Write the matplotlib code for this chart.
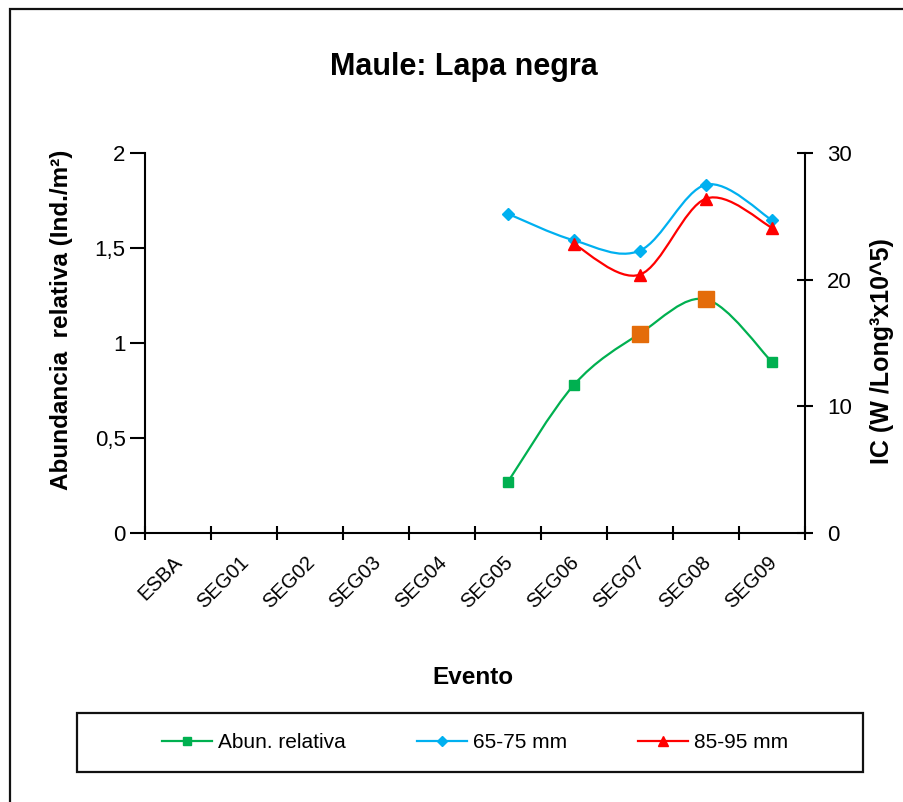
import numpy as np
import matplotlib
matplotlib.use("Agg")
import matplotlib.pyplot as plt
from matplotlib.path import Path
from matplotlib.patches import PathPatch, Rectangle
from matplotlib.lines import Line2D
from matplotlib.ticker import FixedLocator
from matplotlib.transforms import ScaledTranslation

plt.rcParams['font.family'] = ['Liberation Sans', 'DejaVu Sans']

# data
eventos = ['ESBA', 'SEG01', 'SEG02', 'SEG03', 'SEG04',
           'SEG05', 'SEG06', 'SEG07', 'SEG08', 'SEG09']
abundancia = [None, None, None, None, None, 0.27, 0.78, 1.05, 1.23, 0.90]
ic_65_75 = [None, None, None, None, None, 25.2, 23.1, 22.3, 27.5, 24.7]
ic_85_95 = [None, None, None, None, None, None, 22.8, 20.4, 26.4, 24.1]
destacados = ['SEG07', 'SEG08']  # points drawn with the big orange marker

verde = '#00B050'
azul = '#00B0F0'
rojo = '#FF0000'
naranja = '#E46C0A'


def puntos(valores):
    xs, ys = [], []
    for i, v in enumerate(valores):
        if v is not None:
            xs.append(i)
            ys.append(v)
    return np.array(xs, float), np.array(ys, float)


def curva_suave(ax, xs, ys, color):
    # excel-like smoothed line: catmull-rom segments as cubic beziers
    p = np.column_stack([xs, ys])
    verts = [p[0]]
    codes = [Path.MOVETO]
    n = len(p)
    for i in range(n - 1):
        p0 = p[i - 1] if i > 0 else p[i]
        p1 = p[i]
        p2 = p[i + 1]
        p3 = p[i + 2] if i + 2 < n else p[i + 1]
        verts += [p1 + (p2 - p0) / 6, p2 - (p3 - p1) / 6, p2]
        codes += [Path.CURVE4] * 3
    ax.add_patch(PathPatch(Path(verts, codes), facecolor='none',
                           edgecolor=color, lw=1.6, zorder=2))


fig = plt.figure(figsize=(9.04, 8.02), dpi=100)
W, H = 904, 802

# outer chart border
fig.patches.append(Rectangle((10 / W, -0.02), 1.1, (H - 9) / H + 0.02,
                             transform=fig.transFigure, fill=False,
                             edgecolor='#111111', lw=1.6))

ax = fig.add_axes([145 / W, (H - 533) / H, 660 / W, 380 / H])
ax2 = ax.twinx()

x_ab, y_ab = puntos(abundancia)
curva_suave(ax, x_ab, y_ab, verde)
ax.plot(x_ab, y_ab, ls='none', marker='s', ms=6.5, color=verde, zorder=3)
idx = [eventos.index(e) for e in destacados]
ax.plot(idx, [abundancia[i] for i in idx], ls='none', marker='s', ms=11,
        color=naranja, zorder=4)

x65, y65 = puntos(ic_65_75)
curva_suave(ax2, x65, y65, azul)
ax2.plot(x65, y65, ls='none', marker='D', ms=6, color=azul, zorder=3)

x85, y85 = puntos(ic_85_95)
curva_suave(ax2, x85, y85, rojo)
ax2.plot(x85, y85, ls='none', marker='^', ms=8, color=rojo, zorder=3)

ax.set_xlim(-0.5, len(eventos) - 0.5)
ax.set_ylim(0, 2)
ax2.set_ylim(0, 30)
ax.set_yticks([0, 0.5, 1, 1.5, 2])
ax.set_yticklabels(['0', '0,5', '1', '1,5', '2'])
ax2.set_yticks([0, 10, 20, 30])

ax.xaxis.set_major_locator(FixedLocator(np.arange(len(eventos) + 1) - 0.5))
ax.set_xticklabels([])
ax.set_xticks(np.arange(len(eventos)), minor=True)
ax.set_xticklabels(eventos, minor=True, rotation=45, ha='right',
                   va='top', rotation_mode='anchor')
ax.tick_params(axis='x', which='minor', length=0, pad=14, labelsize=14.5)
ax.tick_params(axis='x', which='major', direction='inout', length=10,
               width=1.5)
ax.tick_params(axis='y', direction='out', length=11, width=1.5,
               labelsize=16, pad=3)
ax2.tick_params(axis='y', direction='inout', length=12, width=1.5,
                labelsize=16, pad=10)
desplaza = ScaledTranslation(-5 / 100, 0, fig.dpi_scale_trans)
for lab in ax.get_xticklabels(minor=True):
    lab.set_transform(lab.get_transform() + desplaza)

for s in ['top', 'right']:
    ax.spines[s].set_visible(False)
for s in ['top', 'left', 'bottom']:
    ax2.spines[s].set_visible(False)
for s in ['left', 'bottom']:
    ax.spines[s].set_linewidth(1.5)
ax2.spines['right'].set_linewidth(1.5)

fig.text(464 / W, 1 - 67 / H, 'Maule: Lapa negra', ha='center',
         va='center', fontsize=22, fontweight='bold')
fig.text(473 / W, 1 - 677 / H, 'Evento', ha='center', va='center',
         fontsize=17.5, fontweight='bold')
fig.text(62 / W, 1 - 320 / H, 'Abundancia  relativa (Ind./m²)',
         ha='center', va='center', rotation=90, fontsize=17.5,
         fontweight='bold')
fig.text(882 / W, 1 - 351 / H, 'IC (W /Long³x10^5)', ha='center',
         va='center', rotation=90, fontsize=18, fontweight='bold')

# legend box
fig.patches.append(Rectangle((77 / W, 1 - 772 / H), 786 / W, 59 / H,
                             transform=fig.transFigure, fill=False,
                             edgecolor='#111111', lw=1.6))
handles = [
    Line2D([], [], color=verde, lw=1.6, marker='s', ms=6),
    Line2D([], [], color=azul, lw=1.6, marker='D', ms=5),
    Line2D([], [], color=rojo, lw=1.6, marker='^', ms=7),
]
fig.legend(handles, ['Abun. relativa', '65-75 mm', '85-95 mm'],
           loc='center', bbox_to_anchor=(475 / W, 1 - 743 / H), ncol=3,
           frameon=False, fontsize=15, handlelength=2.4,
           handletextpad=0.3, columnspacing=3.4)

fig.savefig('out.png', dpi=100)
